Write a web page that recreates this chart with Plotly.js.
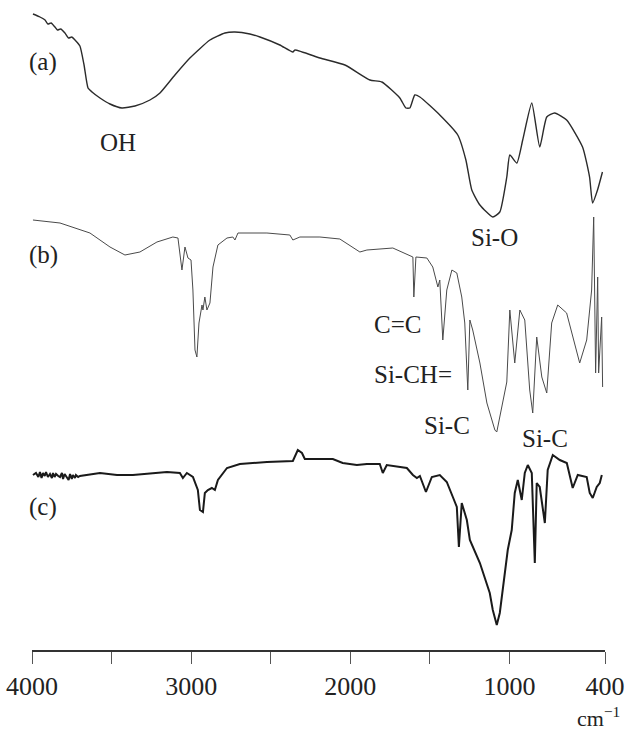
<!DOCTYPE html>
<html>
<head>
<meta charset="utf-8">
<script src="https://cdn.plot.ly/plotly-3.0.1.min.js"></script>
<style>html,body{margin:0;padding:0;background:#fff;}#chart{width:625px;height:732px;}</style>
</head>
<body>
<div id="chart"></div>
<script>
// Wavenumbers (cm-1) and offset transmittance (arbitrary units) for each spectrum
const wnA = [3994,3950,3918,3900,3880,3856,3840,3820,3793,3770,3750,3730,3699,3673,3648,3623,3573,3510,3435,3353,3259,3196,3102,3008,2882,2788,2725,2631,2568,2443,2361,2348,2191,2034,1877,1802,1689,1651,1626,1595,1563,1438,1325,1274,1237,1186,1105,1061,1017,998,954,917,860,810,766,716,641,541,497,478,447,416];
const valA = [63.6,63.3,63.0,62.6,62.7,62.3,62.0,62.1,61.7,61.2,61.3,61.0,60.4,58.5,56.2,55.8,55.2,54.6,54.2,54.4,55.0,55.7,57.5,59.2,61.0,61.7,61.8,61.6,61.3,60.5,59.8,60.0,59.2,58.5,57.0,56.8,55.2,54.2,54.2,55.5,55.3,53.5,51.5,49.0,46.0,44.5,43.3,43.8,47.3,49.5,48.7,51.0,54.7,50.3,53.3,53.7,53.0,50.3,47.3,44.7,46.0,47.8];

const wnB = [3994,3824,3636,3510,3416,3322,3215,3115,3083,3058,3039,3020,3001,2989,2976,2964,2951,2932,2926,2914,2901,2882,2863,2832,2775,2738,2725,2706,2524,2380,2361,2317,2191,2066,1940,1896,1733,1626,1607,1601,1588,1519,1482,1450,1438,1419,1394,1362,1331,1300,1281,1262,1249,1231,1186,1142,1092,1080,1042,1017,998,967,935,904,873,854,829,797,766,735,697,641,559,515,484,471,459,446,440,421,415];
const valB = [43.0,42.7,41.7,40.3,39.5,39.8,40.8,41.3,41.2,38.0,40.3,39.2,39.0,36.0,30.0,29.3,32.7,34.5,34.0,35.3,34.0,34.7,38.3,40.5,41.2,41.3,41.0,41.7,41.7,41.5,41.0,41.3,41.3,41.1,39.8,40.0,40.2,39.5,39.3,35.3,39.3,39.2,38.3,36.3,37.0,31.0,36.0,38.0,37.7,35.3,32.7,26.0,33.0,32.0,28.7,24.7,22.0,21.8,24.7,26.8,34.0,28.7,34.0,33.0,26.0,23.7,31.3,27.3,25.7,32.7,34.5,33.7,28.7,31.0,36.0,43.3,27.7,37.3,27.7,33.3,26.3];

const wnC = [3994,3975,3960,3950,3940,3931,3920,3912,3900,3887,3875,3868,3858,3849,3835,3824,3812,3805,3795,3780,3770,3761,3750,3743,3730,3724,3710,3699,3573,3466,3366,3152,3071,3052,3027,2989,2958,2945,2926,2914,2895,2870,2851,2832,2775,2694,2631,2524,2361,2330,2304,2286,2191,2110,2048,1959,1896,1815,1796,1771,1645,1607,1582,1563,1525,1488,1438,1394,1356,1331,1318,1300,1268,1249,1186,1124,1105,1080,1061,1042,1011,986,967,948,923,904,885,860,841,829,810,778,760,728,684,640,603,571,515,496,477,452,433,420];
const valC = [17.5,17.7,17.3,17.8,17.2,17.7,17.4,17.8,17.3,17.6,17.2,17.7,17.3,17.6,17.4,17.3,17.7,17.1,17.6,17.2,17.0,17.6,17.1,17.5,17.2,17.5,17.3,17.4,17.7,17.5,17.5,17.8,17.7,17.2,17.7,17.3,16.0,14.0,13.8,15.7,16.0,16.2,16.0,17.0,18.2,18.6,18.7,18.8,18.9,20.0,19.7,19.1,19.1,19.1,18.7,18.5,18.6,18.6,17.7,18.5,18.2,17.5,17.2,17.4,15.8,17.3,17.5,16.8,15.3,14.3,10.3,14.7,13.0,11.0,8.7,5.7,4.0,2.5,3.7,6.0,10.0,12.0,15.7,17.0,15.0,17.7,18.5,17.7,8.7,16.7,16.3,12.7,18.0,19.5,19.0,18.7,16.2,17.5,17.3,15.7,15.2,16.3,16.7,17.5];

const tickVals = [4000,3000,2000,1000,400];
const tickText = ['4000','3000','2000','1000','400'];
const minorTicks = [3500,2500,1500];

const labels = ['(a)','OH','Si-O','(b)','C=C','Si-CH=','Si-C','Si-C','(c)'];
const labelWn = [3931,3460,1092,3925,1702,1607,1394,778,3931];
const labelVal = [58.8,50.8,41.3,39.5,32.6,27.6,22.5,21.2,14.3];

const serif = "Liberation Serif";

const traces = [
  {x: wnA, y: valA, mode: 'lines', line: {color: '#2b2b2b', width: 1.4, shape: 'spline', smoothing: 0.5}, hoverinfo: 'skip'},
  {x: wnB, y: valB, mode: 'lines', line: {color: '#4a4a4a', width: 1.0}, hoverinfo: 'skip'},
  {x: wnC, y: valC, mode: 'lines', line: {color: '#1a1a1a', width: 2.0}, hoverinfo: 'skip'}
];

const annotations = labels.map((t, i) => ({
  x: labelWn[i], y: labelVal[i], xref: 'x', yref: 'y',
  text: t, showarrow: false, xanchor: 'center', yanchor: 'middle',
  font: {family: serif, size: 25, color: '#222'}
}));
annotations.push({
  x: 1.03, y: -0.105, xref: 'paper', yref: 'paper',
  text: 'cm<sup>−1</sup>', showarrow: false, xanchor: 'right', yanchor: 'middle',
  font: {family: serif, size: 22, color: '#222'}
});

const layout = {
  width: 625, height: 732,
  margin: {l: 32, r: 20, t: 10, b: 82},
  paper_bgcolor: '#fff', plot_bgcolor: '#fff',
  font: {family: serif, color: '#222'},
  showlegend: false,
  xaxis: {
    range: [4000, 400], tickvals: tickVals, ticktext: tickText,
    showgrid: false, zeroline: false,
    showline: true, linecolor: '#333', linewidth: 2,
    ticks: 'outside', ticklen: 12, tickwidth: 1, tickcolor: '#555',
    ticklabeloverflow: 'allow',
    tickfont: {family: serif, size: 26, color: '#222'},
    minor: {tickvals: minorTicks, ticks: 'outside', ticklen: 12, tickwidth: 1, tickcolor: '#555', showgrid: false}
  },
  yaxis: {range: [0, 64], visible: false, showgrid: false, zeroline: false},
  annotations: annotations
};

Plotly.newPlot('chart', traces, layout, {staticPlot: true, displayModeBar: false});
</script>
</body>
</html>
